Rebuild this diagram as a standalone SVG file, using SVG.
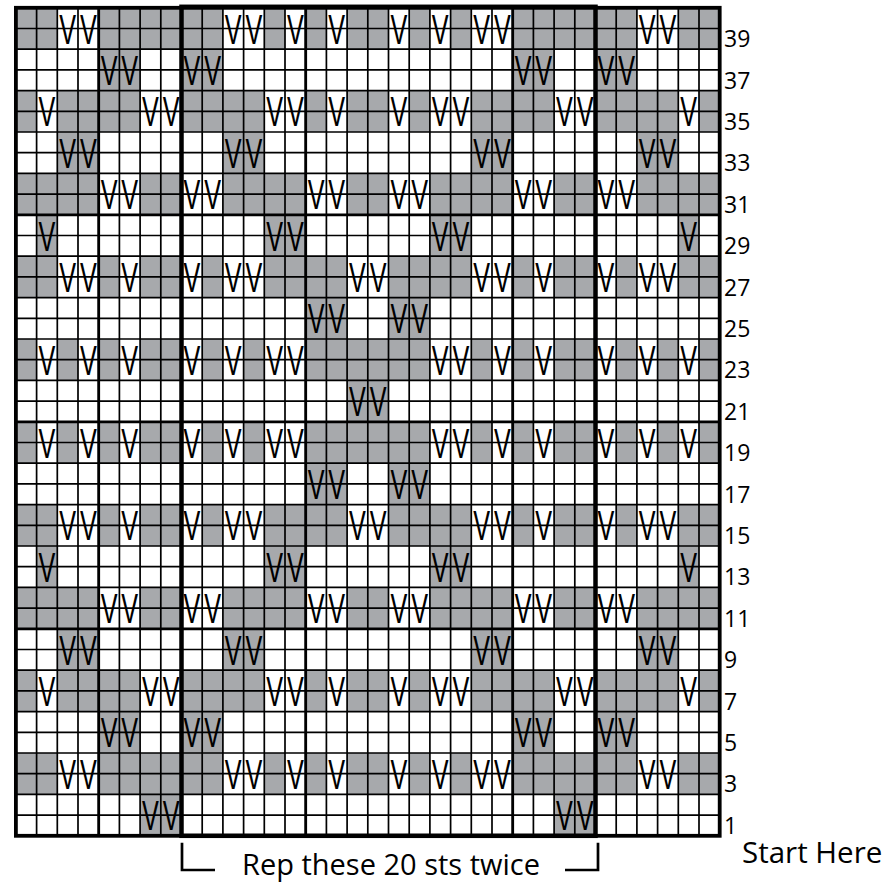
<svg xmlns="http://www.w3.org/2000/svg" width="884" height="884" viewBox="0 0 884 884">
<style>
.g{fill:#a7a9ac}
.w{fill:#ffffff}
.v{font-family:"Liberation Sans",Arial,sans-serif;font-size:42px;text-anchor:middle;fill:#000}
.thin{fill:none;stroke:#000;stroke-width:1.7}
.med{fill:none;stroke:#000;stroke-width:2.8}
.num{font-family:"Open Sans","Liberation Sans",sans-serif;font-size:23px;fill:#000}
.lbl{font-family:"Open Sans","Liberation Sans",sans-serif;font-size:30px;fill:#000}
</style>
<defs>
<g id="cw"><rect width="20.7" height="41.4" class="w"/><text class="v" transform="translate(10.35,35.7) scale(0.6,1)">V</text></g>
<g id="cg"><rect width="20.7" height="41.4" class="g"/><text class="v" transform="translate(10.35,35.7) scale(0.6,1)">V</text></g>
<g id="r0"><rect x="15.9" width="703.8" height="41.4" class="g"/>
<use href="#cw" x="57.3"/><use href="#cw" x="78"/><use href="#cw" x="222.9"/><use href="#cw" x="243.6"/><use href="#cw" x="285"/><use href="#cw" x="326.4"/><use href="#cw" x="388.5"/><use href="#cw" x="429.9"/><use href="#cw" x="471.3"/><use href="#cw" x="492"/><use href="#cw" x="636.9"/><use href="#cw" x="657.6"/></g>
<g id="r1"><use href="#cg" x="98.7"/><use href="#cg" x="119.4"/><use href="#cg" x="181.5"/><use href="#cg" x="202.2"/><use href="#cg" x="512.7"/><use href="#cg" x="533.4"/><use href="#cg" x="595.5"/><use href="#cg" x="616.2"/></g>
<g id="r2"><rect x="15.9" width="703.8" height="41.4" class="g"/>
<use href="#cw" x="36.6"/><use href="#cw" x="140.1"/><use href="#cw" x="160.8"/><use href="#cw" x="264.3"/><use href="#cw" x="285"/><use href="#cw" x="326.4"/><use href="#cw" x="388.5"/><use href="#cw" x="429.9"/><use href="#cw" x="450.6"/><use href="#cw" x="554.1"/><use href="#cw" x="574.8"/><use href="#cw" x="678.3"/></g>
<g id="r3"><use href="#cg" x="57.3"/><use href="#cg" x="78"/><use href="#cg" x="222.9"/><use href="#cg" x="243.6"/><use href="#cg" x="471.3"/><use href="#cg" x="492"/><use href="#cg" x="636.9"/><use href="#cg" x="657.6"/></g>
<g id="r4"><rect x="15.9" width="703.8" height="41.4" class="g"/>
<use href="#cw" x="98.7"/><use href="#cw" x="119.4"/><use href="#cw" x="181.5"/><use href="#cw" x="202.2"/><use href="#cw" x="305.7"/><use href="#cw" x="326.4"/><use href="#cw" x="388.5"/><use href="#cw" x="409.2"/><use href="#cw" x="512.7"/><use href="#cw" x="533.4"/><use href="#cw" x="595.5"/><use href="#cw" x="616.2"/></g>
<g id="r5"><use href="#cg" x="36.6"/><use href="#cg" x="264.3"/><use href="#cg" x="285"/><use href="#cg" x="429.9"/><use href="#cg" x="450.6"/><use href="#cg" x="678.3"/></g>
<g id="r6"><rect x="15.9" width="703.8" height="41.4" class="g"/>
<use href="#cw" x="57.3"/><use href="#cw" x="78"/><use href="#cw" x="119.4"/><use href="#cw" x="181.5"/><use href="#cw" x="222.9"/><use href="#cw" x="243.6"/><use href="#cw" x="347.1"/><use href="#cw" x="367.8"/><use href="#cw" x="471.3"/><use href="#cw" x="492"/><use href="#cw" x="533.4"/><use href="#cw" x="595.5"/><use href="#cw" x="636.9"/><use href="#cw" x="657.6"/></g>
<g id="r7"><use href="#cg" x="305.7"/><use href="#cg" x="326.4"/><use href="#cg" x="388.5"/><use href="#cg" x="409.2"/></g>
<g id="r8"><rect x="15.9" width="703.8" height="41.4" class="g"/>
<use href="#cw" x="36.6"/><use href="#cw" x="78"/><use href="#cw" x="119.4"/><use href="#cw" x="181.5"/><use href="#cw" x="222.9"/><use href="#cw" x="264.3"/><use href="#cw" x="285"/><use href="#cw" x="429.9"/><use href="#cw" x="450.6"/><use href="#cw" x="492"/><use href="#cw" x="533.4"/><use href="#cw" x="595.5"/><use href="#cw" x="636.9"/><use href="#cw" x="678.3"/></g>
<g id="r9"><use href="#cg" x="347.1"/><use href="#cg" x="367.8"/></g>
<g id="r19"><use href="#cg" x="140.1"/><use href="#cg" x="160.8"/><use href="#cg" x="554.1"/><use href="#cg" x="574.8"/></g>
</defs>
<rect width="884" height="884" fill="#fff"/>
<g id="chart-rows">
<use href="#r0" y="7.8"/>
<use href="#r1" y="49.2"/>
<use href="#r2" y="90.6"/>
<use href="#r3" y="132"/>
<use href="#r4" y="173.4"/>
<use href="#r5" y="214.8"/>
<use href="#r6" y="256.2"/>
<use href="#r7" y="297.6"/>
<use href="#r8" y="339"/>
<use href="#r9" y="380.4"/>
<use href="#r8" y="421.8"/>
<use href="#r7" y="463.2"/>
<use href="#r6" y="504.6"/>
<use href="#r5" y="546"/>
<use href="#r4" y="587.4"/>
<use href="#r3" y="628.8"/>
<use href="#r2" y="670.2"/>
<use href="#r1" y="711.6"/>
<use href="#r0" y="753"/>
<use href="#r19" y="794.4"/>
</g>
<g id="grid-lines">
<path class="thin" d="M15.9 7.8V835.8M36.6 7.8V835.8M57.3 7.8V835.8M78 7.8V835.8M98.7 7.8V835.8M119.4 7.8V835.8M140.1 7.8V835.8M160.8 7.8V835.8M181.5 7.8V835.8M202.2 7.8V835.8M222.9 7.8V835.8M243.6 7.8V835.8M264.3 7.8V835.8M285 7.8V835.8M305.7 7.8V835.8M326.4 7.8V835.8M347.1 7.8V835.8M367.8 7.8V835.8M388.5 7.8V835.8M409.2 7.8V835.8M429.9 7.8V835.8M450.6 7.8V835.8M471.3 7.8V835.8M492 7.8V835.8M512.7 7.8V835.8M533.4 7.8V835.8M554.1 7.8V835.8M574.8 7.8V835.8M595.5 7.8V835.8M616.2 7.8V835.8M636.9 7.8V835.8M657.6 7.8V835.8M678.3 7.8V835.8M699 7.8V835.8"/>
<path class="thin" d="M15.9 28.5H719.7M15.9 49.2H719.7M15.9 69.9H719.7M15.9 90.6H719.7M15.9 111.3H719.7M15.9 132H719.7M15.9 152.7H719.7M15.9 173.4H719.7M15.9 194.1H719.7M15.9 214.8H719.7M15.9 235.5H719.7M15.9 256.2H719.7M15.9 276.9H719.7M15.9 297.6H719.7M15.9 318.3H719.7M15.9 339H719.7M15.9 359.7H719.7M15.9 380.4H719.7M15.9 401.1H719.7M15.9 421.8H719.7M15.9 442.5H719.7M15.9 463.2H719.7M15.9 483.9H719.7M15.9 504.6H719.7M15.9 525.3H719.7M15.9 546H719.7M15.9 566.7H719.7M15.9 587.4H719.7M15.9 608.1H719.7M15.9 628.8H719.7M15.9 649.5H719.7M15.9 670.2H719.7M15.9 690.9H719.7M15.9 711.6H719.7M15.9 732.3H719.7M15.9 753H719.7M15.9 773.7H719.7M15.9 794.4H719.7M15.9 815.1H719.7"/>
<path class="med" d="M98.7 7.8V835.8M305.7 7.8V835.8M512.7 7.8V835.8M15.9 214.8H719.7M15.9 421.8H719.7M15.9 628.8H719.7"/>
<rect x="15.9" y="7.8" width="703.8" height="828" fill="none" stroke="#000" stroke-width="3.8"/>
<rect id="repeat-box" x="181.5" y="6.8" width="414" height="829" fill="none" stroke="#000" stroke-width="4.5"/>
</g>
<g id="row-numbers" class="num">
<text x="724" y="47.1">39</text>
<text x="724" y="88.5">37</text>
<text x="724" y="129.9">35</text>
<text x="724" y="171.3">33</text>
<text x="724" y="212.7">31</text>
<text x="724" y="254.1">29</text>
<text x="724" y="295.5">27</text>
<text x="724" y="336.9">25</text>
<text x="724" y="378.3">23</text>
<text x="724" y="419.7">21</text>
<text x="724" y="461.1">19</text>
<text x="724" y="502.5">17</text>
<text x="724" y="543.9">15</text>
<text x="724" y="585.3">13</text>
<text x="724" y="626.7">11</text>
<text x="724" y="668.1">9</text>
<text x="724" y="709.5">7</text>
<text x="724" y="750.9">5</text>
<text x="724" y="792.3">3</text>
<text x="724" y="833.7">1</text>
</g>
<g id="repeat-bracket">
<path d="M182 842.7V870H215M565 870H598V842.7" fill="none" stroke="#000" stroke-width="2.7"/>
<text class="lbl" x="391" y="875" text-anchor="middle" style="font-size:29px">Rep these 20 sts twice</text>
</g>
<text id="start-here" class="lbl" x="742" y="863" style="font-size:29.5px">Start Here</text>
</svg>
